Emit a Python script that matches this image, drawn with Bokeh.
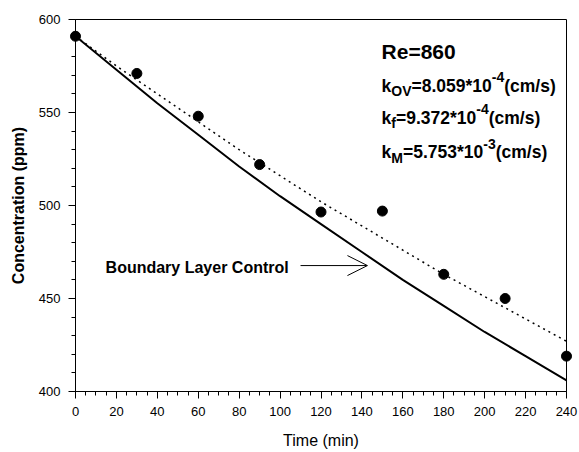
from bokeh.plotting import figure
from bokeh.models import Range1d, SingleIntervalTicker, Label, Arrow, OpenHead
from bokeh.embed import file_html
from bokeh.resources import INLINE

# ---- data ----
time_obs = [0, 30, 60, 90, 120, 150, 180, 210, 240]
conc_obs = [591, 571, 548, 522, 496.5, 497, 463, 450, 419]

time_model = [0, 20, 40, 60, 80, 100, 120, 140, 160, 180, 200, 220, 240]
conc_boundary = [591, 573, 555, 538, 521, 505, 490, 475, 460, 446, 432, 419, 406]
conc_fit = [591, 575, 560, 545, 530, 516, 502, 489, 476, 463, 451, 439, 427]

x_label = "Time (min)"
y_label = "Concentration (ppm)"
annot_label = "Boundary Layer Control"

FONT = "Liberation Sans"

p = figure(width=579, height=452, output_backend="svg", toolbar_location=None,
           x_range=Range1d(0, 240), y_range=Range1d(400, 600),
           min_border_left=75, min_border_right=13, min_border_top=19, min_border_bottom=61)
p.grid.visible = False
p.outline_line_color = "black"
p.outline_line_width = 1
p.outline_line_alpha = 1
p.background_fill_color = "white"
p.border_fill_color = "white"

p.xaxis.ticker = SingleIntervalTicker(interval=20, num_minor_ticks=4)
p.yaxis.ticker = SingleIntervalTicker(interval=50, num_minor_ticks=5)
for ax in (p.xaxis[0], p.yaxis[0]):
    ax.axis_line_color = "black"
    ax.major_tick_line_color = "black"
    ax.minor_tick_line_color = "black"
    ax.major_tick_out = 7
    ax.major_tick_in = 0
    ax.minor_tick_out = 4
    ax.minor_tick_in = 0
    ax.major_label_text_font = FONT
    ax.major_label_text_font_size = "13px"
    ax.major_label_text_color = "black"
    ax.axis_label_text_font = FONT
    ax.axis_label_text_font_size = "16px"
    ax.axis_label_text_color = "black"
p.xaxis.axis_label = x_label
p.yaxis.axis_label = y_label
p.xaxis.axis_label_text_font_style = "normal"
p.yaxis.axis_label_text_font_style = "bold"
p.xaxis.major_label_standoff = 8
p.yaxis.major_label_standoff = 8
p.xaxis.axis_label_standoff = 13
p.yaxis.axis_label_standoff = 9

p.line(time_model, conc_boundary, line_color="black", line_width=2)
p.line(time_model, conc_fit, line_color="black", line_width=1.5, line_dash="2 4")
p.scatter(time_obs, conc_obs, size=10, fill_color="black", line_color="black",
          level="overlay")

# ---- annotations ----
BOLD_W = {'k': 556, 'O': 778, 'V': 667, '=': 584, '.': 278, '*': 389, '-': 333,
          '(': 333, ')': 333, 'c': 556, 'm': 889, '/': 278, 's': 556, 'f': 333,
          'M': 833, 'R': 722, 'e': 556}


def text_width(s, size):
    return sum(BOLD_W.get(ch, 556) for ch in s) * size / 1000.0


def rich(x, y, parts, size):
    dx = 0.0
    for t, kind in parts:
        if kind == "n":
            fs, dy = size, 0
        elif kind == "sub":
            fs, dy = size * 0.8, -size * 0.3
        else:
            fs, dy = size * 0.8, size * 0.5
        p.add_layout(Label(x=x, y=y, x_offset=dx, y_offset=dy, text=t,
                           text_font=FONT, text_font_size=f"{fs:.1f}px",
                           text_font_style="bold", text_color="black",
                           text_baseline="alphabetic", text_align="left"))
        dx += text_width(t, fs) * 1.0


rich(149.6, 582.8, [("Re=860", "n")], 21)
rich(149.6, 564.5, [("k", "n"), ("OV", "sub"), ("=8.059*10", "n"), ("-4", "sup"), ("(cm/s)", "n")], 17.5)
rich(149.6, 547.3, [("k", "n"), ("f", "sub"), ("=9.372*10", "n"), ("-4", "sup"), ("(cm/s)", "n")], 17.5)
rich(149.6, 528.5, [("k", "n"), ("M", "sub"), ("=5.753*10", "n"), ("-3", "sup"), ("(cm/s)", "n")], 17.5)

p.add_layout(Label(x=14.7, y=466.7, text=annot_label, text_font=FONT,
                   text_font_size="16px", text_font_style="bold", text_color="black",
                   text_baseline="alphabetic"))
p.add_layout(Arrow(end=OpenHead(size=20, line_width=1, line_color="black"),
                   x_start=110, y_start=467.7, x_end=142.7, y_end=467.7,
                   line_color="black", line_width=1))

open("out.html", "w").write(file_html(p, INLINE))
